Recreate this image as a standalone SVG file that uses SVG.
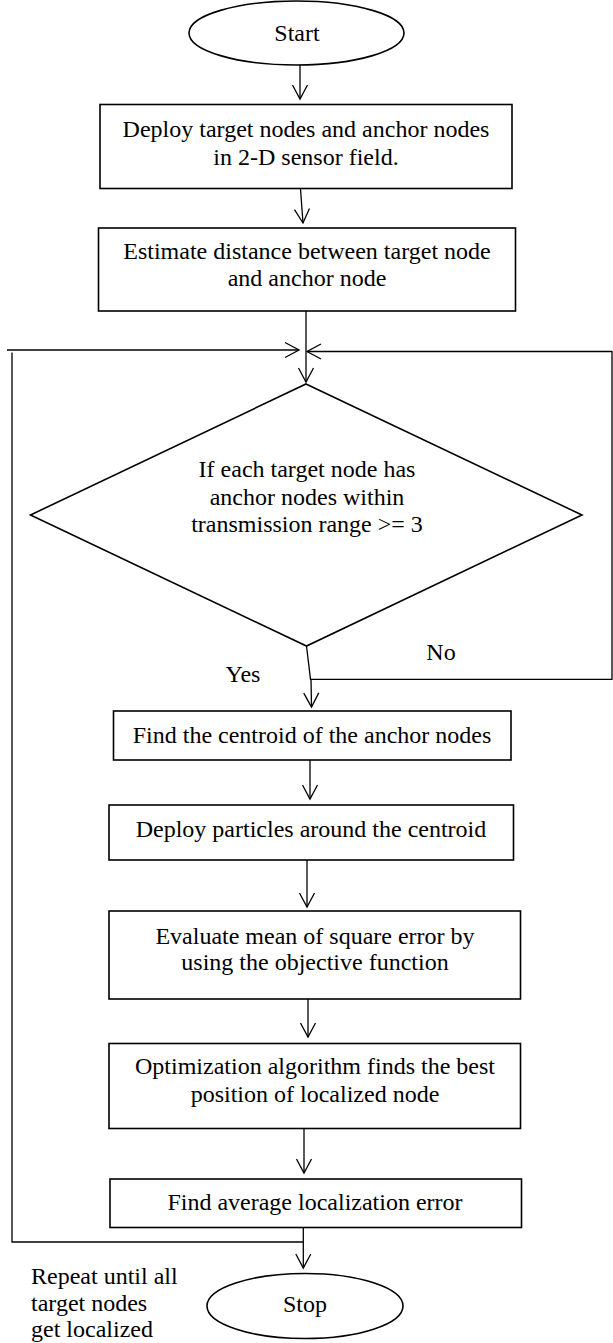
<svg xmlns="http://www.w3.org/2000/svg" width="613" height="1343" viewBox="0 0 613 1343">
<style>
.shape{fill:#fff;stroke:#000;stroke-width:1.6}
.line{fill:none;stroke:#000;stroke-width:1.3}
text{font-family:"Liberation Serif","Times New Roman",serif;font-size:24px;fill:#000}
.c{text-anchor:middle}
</style>
<defs>
<marker id="arr" markerUnits="userSpaceOnUse" markerWidth="20" markerHeight="20" viewBox="-16 -10 20 20" refX="0" refY="0" orient="auto" overflow="visible">
<path d="M-14,-7.5 L0,0 L-14,7.5" fill="none" stroke="#000" stroke-width="1.3"/>
</marker>
</defs>
<rect width="613" height="1343" fill="#fff"/>
<g id="connectors">
<line class="line" x1="300" y1="65" x2="300" y2="99" marker-end="url(#arr)"/>
<line class="line" x1="300.5" y1="189" x2="303" y2="223" marker-end="url(#arr)"/>
<line class="line" x1="306" y1="311" x2="306" y2="382" marker-end="url(#arr)"/>
<line class="line" x1="7" y1="350" x2="299" y2="350" marker-end="url(#arr)"/>
<polyline class="line" points="306.5,646 310.5,679.3 612,679.3 612,351.5 307,351.5" marker-end="url(#arr)"/>
<line class="line" x1="311" y1="679" x2="311.5" y2="707" marker-end="url(#arr)"/>
<line class="line" x1="310" y1="760" x2="310" y2="799" marker-end="url(#arr)"/>
<line class="line" x1="307" y1="860" x2="307" y2="907" marker-end="url(#arr)"/>
<line class="line" x1="308" y1="999" x2="308" y2="1037" marker-end="url(#arr)"/>
<line class="line" x1="304" y1="1129" x2="304" y2="1173" marker-end="url(#arr)"/>
<line class="line" x1="303.3" y1="1227" x2="303.3" y2="1268" marker-end="url(#arr)"/>
<polyline class="line" points="303.3,1242 12,1242 12,352.5"/>
</g>
<g id="start">
<ellipse class="shape" cx="296.5" cy="33" rx="107.5" ry="32"/>
<text class="c" x="297" y="41">Start</text>
</g>
<g id="deploy">
<rect class="shape" x="100" y="104.5" width="412" height="84"/>
<text class="c" x="306" y="137">Deploy target nodes and anchor nodes</text>
<text class="c" x="306" y="165">in 2-D sensor field.</text>
</g>
<g id="estimate">
<rect class="shape" x="98.5" y="228" width="417" height="83"/>
<text class="c" x="307" y="258.5">Estimate distance between target node</text>
<text class="c" x="307" y="286">and anchor node</text>
</g>
<g id="decision">
<polygon class="shape" points="306,384 582,515 306.5,646 30.5,515"/>
<text class="c" x="307" y="477">If each target node has</text>
<text class="c" x="307" y="505">anchor nodes within</text>
<text class="c" x="307" y="532">transmission range &gt;= 3</text>
</g>
<g id="labels">
<text class="c" x="441" y="660">No</text>
<text class="c" x="243" y="682">Yes</text>
</g>
<g id="centroid">
<rect class="shape" x="113.5" y="711" width="397.5" height="49"/>
<text class="c" x="312" y="743">Find the centroid of the anchor nodes</text>
</g>
<g id="particles">
<rect class="shape" x="109" y="805" width="404.5" height="55"/>
<text class="c" x="311" y="837">Deploy particles around the centroid</text>
</g>
<g id="evaluate">
<rect class="shape" x="109" y="911" width="411.5" height="88"/>
<text class="c" x="315" y="943.5">Evaluate mean of square error by</text>
<text class="c" x="315" y="970">using the objective function</text>
</g>
<g id="optimize">
<rect class="shape" x="109" y="1043.5" width="411.5" height="85"/>
<text class="c" x="315" y="1073.5">Optimization algorithm finds the best</text>
<text class="c" x="315" y="1102">position of localized node</text>
</g>
<g id="average">
<rect class="shape" x="110" y="1179" width="411.5" height="48.5"/>
<text class="c" x="315" y="1210">Find average localization error</text>
</g>
<g id="stop">
<ellipse class="shape" cx="305" cy="1306" rx="98" ry="32.5"/>
<text class="c" x="305" y="1312">Stop</text>
</g>
<g id="note">
<text x="31" y="1284">Repeat until all</text>
<text x="31" y="1311">target nodes</text>
<text x="31" y="1337">get localized</text>
</g>
</svg>
